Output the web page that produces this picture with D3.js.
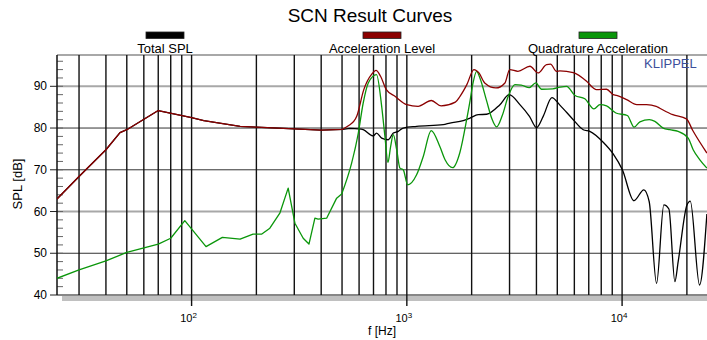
<!DOCTYPE html>
<html>
<head>
<meta charset="utf-8">
<script src="https://cdn.jsdelivr.net/npm/d3@7"></script>
<style>
  body { margin: 0; background: #fff; }
  svg { font-family: "Liberation Sans", Arial, sans-serif; }
</style>
</head>
<body>
<svg id="chart" width="707" height="340"></svg>
<script>
// values
var totalFreq = [23.7, 30, 40, 46.5, 50, 70, 100, 114, 168, 200, 300, 400, 504, 544, 595, 627, 698, 723, 764, 820, 865, 912, 962,
	1110, 1476, 1585, 1828, 1966, 2146, 2348, 2706, 2990, 3351, 3713, 4007, 4300, 4720, 5140, 5930, 6600, 7080, 8170, 9090,
	10030, 11350, 12620, 13360, 14460, 15630, 16500, 17590, 18220, 20000, 20740, 22900, 24770];
var totalSpl = [63.0, 68.4, 74.8, 78.9, 79.6, 84.2, 82.5, 81.8, 80.4, 80.2, 79.8, 79.5, 79.7, 79.9, 79.8, 79.6, 78.1, 78.8, 77.6, 77.2, 78.8, 79.2, 80.0,
	80.4, 80.8, 81.2, 81.8, 82.4, 83.2, 83.3, 85.6, 88.0, 85.6, 82.8, 80.1, 82.8, 87.3, 85.5, 82.0, 79.6, 79.2, 76.6, 73.8,
	70.0, 62.6, 65.2, 62.4, 42.8, 61.6, 60.6, 43.2, 48.0, 61.5, 62.5, 42.4, 59.4];

var accelFreq = [23.7, 30, 40, 46.5, 50, 70, 100, 114, 168, 200, 300, 400, 504, 544, 585, 631, 687, 719, 755, 803, 881, 1000,
	1127, 1300, 1443, 1680, 1766, 1900, 2050, 2163, 2300, 2594, 2856, 3006, 3282, 3733, 4070, 4460, 4650, 4960, 5140, 5930,
	6840, 7350, 7600, 8470, 9090, 9420, 10500, 11700, 13000, 14400, 14900, 17200, 19900, 21300, 24770];
var accelSpl = [63.0, 68.4, 74.8, 78.9, 79.6, 84.2, 82.5, 81.8, 80.4, 80.2, 79.8, 79.5, 79.7, 80.8, 82.8, 89.2, 92.9, 93.8, 92.4, 89.2, 87.6, 85.6,
	85.2, 86.6, 85.3, 86.2, 87.6, 90.4, 94.0, 93.2, 90.8, 89.6, 90.8, 94.0, 93.6, 94.8, 93.2, 95.2, 95.3, 93.6, 93.7, 93.3,
	91.2, 89.6, 89.2, 89.3, 88.0, 87.8, 86.8, 85.6, 85.6, 85.2, 84.8, 83.2, 82.2, 79.4, 74.0];

var quadFreq = [23.7, 30, 40, 50, 70, 80, 93, 116.7, 139, 168, 193, 212, 231, 257, 281, 302, 330, 351, 374, 387, 424, 472, 498,
	554, 595, 627, 662, 723, 764, 791, 817, 841, 865, 897, 929, 962, 1009, 1110, 1192, 1298, 1425, 1505, 1632, 1765, 1896,
	1966, 2023, 2110, 2185, 2348, 2477, 2613, 2775, 2958, 3177, 3400, 3709, 3969, 4227, 4771, 5140, 5524, 6040, 6716, 7400,
	7890, 8470, 9360, 10580, 11370, 12100, 13380, 14200, 15520, 16650, 18220, 20280, 21390, 22980, 24770];
var quadSpl = [44.0, 46.0, 48.2, 50.2, 52.2, 53.6, 57.8, 51.6, 53.8, 53.4, 54.6, 54.6, 56.0, 59.6, 65.6, 57.2, 53.6, 52.2, 58.4, 58.2, 58.4, 63.2, 64.2,
	71.6, 78.8, 86.0, 90.8, 92.8, 85.2, 78.0, 71.8, 75.6, 78.4, 74.8, 70.4, 70.0, 66.4, 68.8, 73.2, 79.4, 75.5, 72.4, 70.5, 74.2, 82.0,
	86.5, 90.4, 93.6, 92.0, 86.5, 82.4, 80.3, 83.0, 87.6, 90.4, 90.3, 89.7, 90.8, 89.3, 89.4, 89.8, 90.0, 87.8, 87.0, 84.6,
	85.6, 85.3, 83.6, 83.0, 80.2, 81.5, 82.0, 81.6, 80.0, 79.6, 79.2, 77.6, 74.8, 72.4, 70.4];

var yTicks = [40, 50, 60, 70, 80, 90];
var decades = [100, 1000, 10000];
var seriesNames = ["Total SPL", "Acceleration Level", "Quadrature Acceleration"];
var seriesColors = ["#000000", "#8b0000", "#0a960a"];

var svg = d3.select("#chart");
var plotLeft = 57, plotRight = 707, plotTop = 55, plotBottom = 295;

var x = d3.scaleLog().domain([23.7, 24800]).range([plotLeft, plotRight]);
var y = d3.scaleLinear().domain([40, 97.5]).range([plotBottom, plotTop]);

svg.append("defs").append("clipPath").attr("id", "plotClip")
	.append("rect").attr("x", plotLeft).attr("y", plotTop)
	.attr("width", plotRight - plotLeft).attr("height", plotBottom - plotTop);

// shadow under the x axis
svg.append("rect").attr("x", plotLeft + 5).attr("y", plotBottom + 1)
	.attr("width", plotRight - plotLeft).attr("height", 5).attr("fill", "#c0c0c0");

// horizontal grid
svg.append("g").selectAll("line")
	.data(yTicks.filter(function(d) { return d > 40; }))
	.enter().append("line")
		.attr("x1", plotLeft).attr("x2", plotRight)
		.attr("y1", function(d) { return y(d); })
		.attr("y2", function(d) { return y(d); })
		.attr("stroke", function(d) { return (d == 60 || d == 90) ? "#a8a8a8" : "#333"; })
		.attr("stroke-width", function(d) { return (d == 60 || d == 90) ? 2 : 1; });

svg.append("line").attr("x1", plotLeft).attr("x2", plotRight).attr("y1", plotTop).attr("y2", plotTop)
	.attr("stroke", "#a8a8a8").attr("stroke-width", 2);

// vertical grid, decades run below the axis
svg.append("g").selectAll("line")
	.data(x.ticks())
	.enter().append("line")
		.attr("x1", function(d) { return x(d); })
		.attr("x2", function(d) { return x(d); })
		.attr("y1", plotTop)
		.attr("y2", function(d) { return decades.indexOf(d) >= 0 ? plotBottom + 11 : plotBottom; })
		.attr("stroke", "#111").attr("stroke-width", 1.4);

// y axis with minor ticks inside
var minor = d3.range(42, 97, 2);
svg.append("g").selectAll("line")
	.data(minor)
	.enter().append("line")
		.attr("x1", plotLeft).attr("x2", plotLeft + 6)
		.attr("y1", function(d) { return y(d); })
		.attr("y2", function(d) { return y(d); })
		.attr("stroke", "#666").attr("stroke-width", 1);

svg.append("g").selectAll("line")
	.data(yTicks)
	.enter().append("line")
		.attr("x1", plotLeft - 7).attr("x2", plotLeft)
		.attr("y1", function(d) { return y(d); })
		.attr("y2", function(d) { return y(d); })
		.attr("stroke", "#222").attr("stroke-width", 1);

svg.append("line").attr("x1", plotLeft).attr("x2", plotLeft).attr("y1", plotTop).attr("y2", plotBottom)
	.attr("stroke", "#111").attr("stroke-width", 1.5);
svg.append("line").attr("x1", plotLeft).attr("x2", plotRight).attr("y1", plotBottom).attr("y2", plotBottom)
	.attr("stroke", "#111").attr("stroke-width", 1.2);

svg.append("g").selectAll("text")
	.data(yTicks)
	.enter().append("text")
		.attr("x", plotLeft - 10)
		.attr("y", function(d) { return y(d) + 4; })
		.attr("text-anchor", "end")
		.attr("font-size", 12)
		.text(function(d) { return d; });

var xl = svg.append("g").selectAll("text")
	.data(decades)
	.enter().append("text")
		.attr("x", function(d) { return x(d) - 3; })
		.attr("y", 322)
		.attr("text-anchor", "middle")
		.attr("font-size", 11);
xl.append("tspan").text("10");
xl.append("tspan").attr("dy", -4).attr("font-size", 8)
	.text(function(d) { return String(Math.round(Math.log10(d))); });

svg.append("text").attr("x", 382).attr("y", 335).attr("text-anchor", "middle").attr("font-size", 12).text("f [Hz]");
svg.append("text").attr("transform", "translate(22,184) rotate(-90)").attr("text-anchor", "middle")
	.attr("font-size", 13).text("SPL [dB]");

// curves: sparse straight segments at low frequency, smooth above ~500 Hz
var lineLow = d3.line()
	.x(function(d) { return x(d[0]); })
	.y(function(d) { return y(d[1]); });
var lineHigh = d3.line()
	.x(function(d) { return x(d[0]); })
	.y(function(d) { return y(d[1]); })
	.curve(d3.curveMonotoneX);

function curvePath(pts) {
	var k = d3.bisector(function(d) { return d[0]; }).right(pts, 550) - 1;
	return lineLow(pts.slice(0, k + 1)) + lineHigh(pts.slice(k)).replace(/^M/, "L");
}

var curves = [
	d3.zip(totalFreq, totalSpl),
	d3.zip(quadFreq, quadSpl),
	d3.zip(accelFreq, accelSpl)
];
var curveColors = [seriesColors[0], seriesColors[2], seriesColors[1]];

svg.append("g").attr("clip-path", "url(#plotClip)")
	.selectAll("path")
	.data(curves)
	.enter().append("path")
		.attr("d", curvePath)
		.attr("fill", "none")
		.attr("stroke", function(d, i) { return curveColors[i]; })
		.attr("stroke-width", 1.3)
		.attr("stroke-linejoin", "round");

svg.append("text").attr("x", 644).attr("y", 68).attr("font-size", 13).attr("fill", "#3d4f9b").text("KLIPPEL");

// title and legend
svg.append("text").attr("x", 370).attr("y", 22).attr("text-anchor", "middle").attr("font-size", 19).text("SCN Result Curves");

var legendX = [165, 382, 598];
var legend = svg.append("g").selectAll("g")
	.data(seriesNames)
	.enter().append("g")
		.attr("transform", function(d, i) { return "translate(" + legendX[i] + ",0)"; });
legend.append("rect")
	.attr("x", -19).attr("y", 32).attr("width", 38).attr("height", 6.5)
	.attr("fill", function(d, i) { return seriesColors[i]; })
	.attr("stroke", "#222").attr("stroke-width", 0.8);
legend.append("text")
	.attr("y", 53).attr("text-anchor", "middle").attr("font-size", 13)
	.text(function(d) { return d; });
</script>
</body>
</html>
